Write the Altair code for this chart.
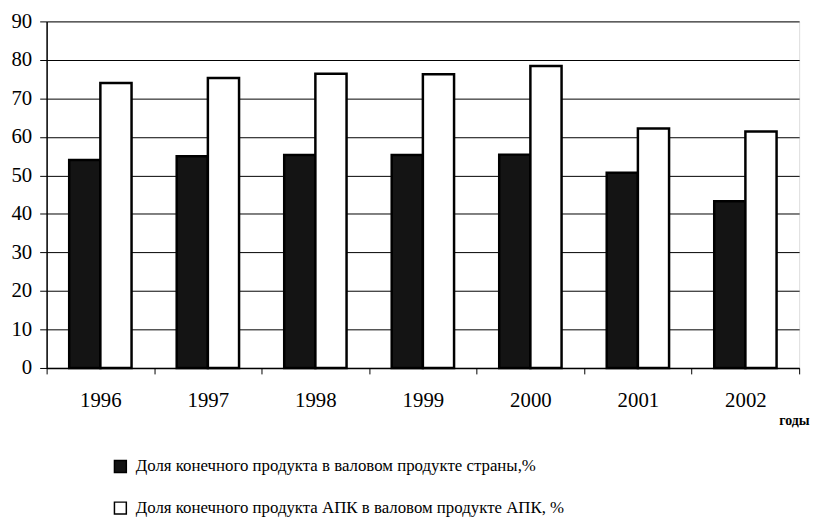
import altair as alt
import pandas as pd

years = ["1996", "1997", "1998", "1999", "2000", "2001", "2002"]
share_country = [54.0, 55.0, 55.3, 55.3, 55.4, 50.7, 43.3]
share_apk = [74.0, 75.3, 76.4, 76.3, 78.4, 62.2, 61.4]
series_names = [
    "Доля конечного продукта в валовом продукте страны,%",
    "Доля конечного продукта АПК в валовом продукте АПК, %",
]

rows = []
for y, a, b in zip(years, share_country, share_apk):
    rows.append({"year": y, "series": series_names[0], "value": a})
    rows.append({"year": y, "series": series_names[1], "value": b})
df = pd.DataFrame(rows)

FONT = "Liberation Serif"

chart = (
    alt.Chart(df)
    .mark_bar(stroke="black", strokeWidth=2.5)
    .encode(
        x=alt.X(
            "year:N",
            sort=years,
            scale=alt.Scale(paddingInner=0, paddingOuter=0),
            axis=alt.Axis(
                title="годы",
                titleFont=FONT,
                titleFontSize=14,
                titleFontWeight="bold",
                titleAnchor="end",
                titleAlign="right",
                titleBaseline="middle",
                titleX=770,
                titleY=53,
                labelFont=FONT,
                labelFontSize=21,
                labelColor="black",
                labelAngle=0,
                labelPadding=16,
                tickColor="black",
                tickSize=6,
                tickBand="extent",
                domainColor="black",
                domainWidth=1.5,
                grid=False,
            ),
        ),
        xOffset=alt.XOffset(
            "series:N",
            sort=series_names,
            scale=alt.Scale(paddingInner=0, paddingOuter=0.724),
        ),
        y=alt.Y(
            "value:Q",
            scale=alt.Scale(domain=[0, 90], nice=False),
            axis=alt.Axis(
                title=None,
                values=list(range(0, 91, 10)),
                labelFont=FONT,
                labelFontSize=21,
                labelColor="black",
                labelPadding=8,
                tickColor="black",
                tickSize=7,
                domainColor="black",
                domainWidth=1.5,
                gridColor="black",
                gridWidth=1,
                gridOpacity=1,
            ),
        ),
        fill=alt.Fill(
            "series:N",
            sort=series_names,
            scale=alt.Scale(domain=series_names, range=["#141414", "#ffffff"]),
            legend=alt.Legend(
                title=None,
                orient="none",
                legendX=66,
                legendY=441,
                direction="vertical",
                symbolType="square",
                symbolSize=144,
                symbolStrokeColor="black",
                symbolStrokeWidth=1.5,
                labelFont=FONT,
                labelFontSize=17,
                labelColor="black",
                labelLimit=0,
                labelOffset=7,
                rowPadding=23,
                padding=0,
            ),
        ),
    )
    .properties(
        width=760,
        height=350,
        autosize=alt.AutoSizeParams(type="none"),
        padding={"left": 39, "top": 11, "right": 15, "bottom": 150},
    )
    .configure_view(stroke=None)
    .configure(background="white", font=FONT)
)

chart.save("out.html", embed_options={"renderer": "svg", "actions": False})
